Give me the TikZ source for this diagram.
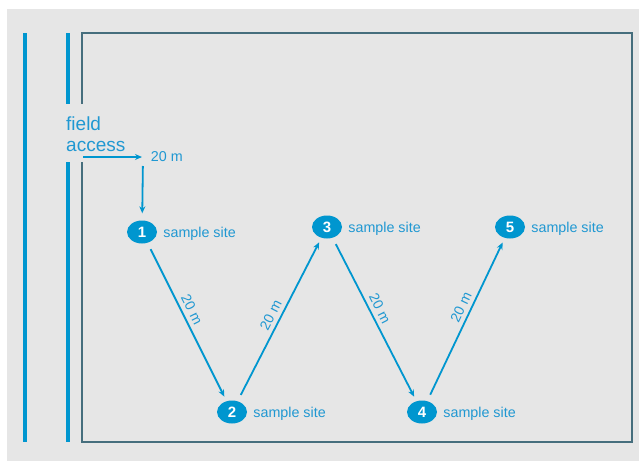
\documentclass[tikz,border=0pt]{standalone}
\usepackage{fontspec}
\setmainfont{Liberation Sans}
\usetikzlibrary{arrows.meta,positioning,shapes.geometric}
\definecolor{fieldblue}{RGB}{0,150,207}
\definecolor{textblue}{RGB}{32,152,210}
\definecolor{fieldgray}{RGB}{230,230,230}
\definecolor{borderteal}{RGB}{70,110,125}
\begin{document}
\begin{tikzpicture}[x=1pt,y=-1pt,
  site/.style={ellipse,fill=fieldblue,text=white,minimum width=30pt,minimum height=23pt,
    inner sep=0pt,font=\bfseries\fontsize{15}{15}\selectfont},
  sitelabel/.style={text=textblue,inner sep=0pt,font=\fontsize{14.3}{15}\selectfont},
  walk/.style={draw=fieldblue,line width=1.8pt,-{Stealth[length=7pt,width=6pt]},
    shorten <=7pt,shorten >=5pt},
  dist/.style={sloped,above,text=textblue,inner sep=4pt,font=\fontsize{14}{15}\selectfont},
  bar/.style={draw=fieldblue,line width=4pt},
  fence/.style={draw=borderteal,line width=1.2pt}]
\useasboundingbox (0,0) rectangle (639,461);
\fill[fieldgray] (7,9) rectangle (639,461);

% field edge and access
\draw[bar] (25,33) -- (25,442);
\draw[bar] (68,33) -- (68,104);
\draw[bar] (68,162) -- (68,442);
\draw[fence] (82,104) -- (82,33) -- (632,33) -- (632,442) -- (82,442) -- (82,162);
\node[anchor=west,align=left,text=textblue,inner sep=0pt,font=\fontsize{19}{21}\selectfont]
  (gate text) at (66,134) {field\\access};

% sample sites
\foreach \n/\x/\y in {1/142/232, 2/232/412, 3/327/227, 4/422/412, 5/510/227}{
  \node[site] (s\n) at (\x,\y) {\n};
  \node[sitelabel,right=6pt of s\n,yshift=-2pt] (l\n) {sample site};
}

% walking route
\coordinate (gate) at (83,157);
\coordinate (turn) at (143,157);
\draw[walk,shorten <=0pt,shorten >=1pt] (gate) -- (turn) node[right,sitelabel,xshift=7pt] (d0) {20 m};
\draw[walk,shorten <=9pt,shorten >=7pt] (turn) -- (s1);
\foreach \a/\b/\p in {1/2/0.45, 2/3/0.5, 3/4/0.46, 4/5/0.55}
  \draw[walk] (s\a) -- node[dist,pos=\p] (d\a) {20 m} (s\b);
\end{tikzpicture}
\end{document}
